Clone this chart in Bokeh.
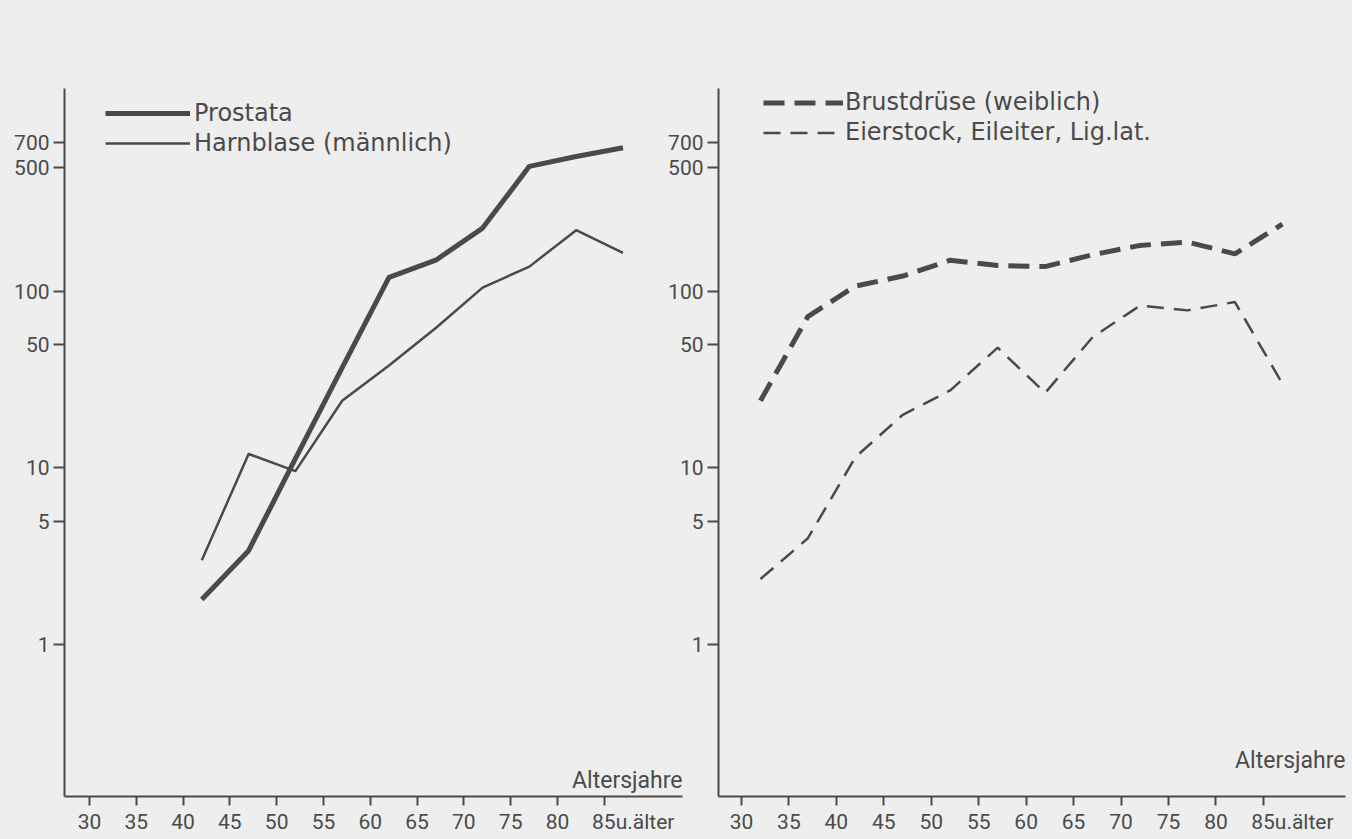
from bokeh.plotting import figure
from bokeh.layouts import row
from bokeh.models import (Range1d, FixedTicker, NumeralTickFormatter, Legend,
                          LegendItem, Label, LinearAxis)
from bokeh.embed import file_html
from bokeh.resources import INLINE

# ---------------- data ----------------
age_left = [42, 47, 52, 57, 62, 67, 72, 77, 82, 87]
prostata = [1.8, 3.4, 11.3, 37, 120, 150, 228, 510, 580, 650]
harnblase = [3.0, 12, 9.6, 24, 38, 62, 105, 138, 222, 165]

age_right = [32, 37, 42, 47, 52, 57, 62, 67, 72, 77, 82, 87]
brust = [24, 72, 107, 122, 150, 140, 138, 161, 182, 190, 163, 240]
eierstock = [2.35, 4.0, 11.5, 20, 27.5, 48, 26.6, 55, 83, 78, 87, 30]

x_ticks = [30, 35, 40, 45, 50, 55, 60, 65, 70, 75, 80, 85]
y_ticks = [1, 5, 10, 50, 100, 500, 700]
last_label = "85u.älter"
x_title = "Altersjahre"
labels_left = ["Prostata", "Harnblase (männlich)"]
labels_right = ["Brustdrüse (weiblich)", "Eierstock, Eileiter, Lig.lat."]

INK = "#4a4a4a"
BG = "#eeeeee"
TICK_FONT = "Roboto"
TEXT_FONT = "DejaVu Sans"

Y_RANGE = (0.138, 1407)


def make_panel(width, height, b_left, b_right, b_top, b_bottom, xr, yr, title_y):
    frame_w = width - b_left - b_right
    p = figure(width=width, height=height,
               x_range=Range1d(*xr), y_range=Range1d(*yr), y_axis_type="log",
               x_axis_location=None,
               output_backend="svg", toolbar_location=None,
               min_border_left=b_left, min_border_right=b_right,
               min_border_top=b_top, min_border_bottom=b_bottom)
    p.background_fill_color = None
    p.border_fill_color = None
    p.outline_line_color = None
    p.grid.visible = False

    # y axis
    ya = p.yaxis[0]
    ya.axis_line_color = INK
    ya.axis_line_width = 2
    ya.major_tick_line_color = INK
    ya.major_tick_line_width = 2
    ya.major_tick_in = 0
    ya.major_tick_out = 11
    ya.minor_tick_line_color = None
    ya.major_label_standoff = 4
    ya.major_label_text_font = TICK_FONT
    ya.major_label_text_font_size = "21px"
    ya.major_label_text_color = INK
    ya.ticker = FixedTicker(ticks=y_ticks)
    ya.formatter = NumeralTickFormatter(format="0")

    # x axis: tick marks drawn as minor ticks at the ages, labels on major
    # ticks; the last label "85u.älter" is shifted so that "85" sits on its tick
    shift = 29 * (xr[1] - xr[0]) / frame_w
    lab_ticks = x_ticks[:-1] + [x_ticks[-1] + shift]
    xa = LinearAxis(ticker=FixedTicker(ticks=lab_ticks, minor_ticks=x_ticks))
    xa.axis_line_color = INK
    xa.axis_line_width = 2
    xa.major_tick_line_color = None
    xa.major_tick_in = 0
    xa.major_tick_out = 0
    xa.minor_tick_line_color = INK
    xa.minor_tick_line_width = 2
    xa.minor_tick_in = 0
    xa.minor_tick_out = 9
    xa.major_label_standoff = 4
    xa.major_label_text_font = TICK_FONT
    xa.major_label_text_font_size = "21px"
    xa.major_label_text_color = INK
    xa.major_label_overrides = {lab_ticks[-1]: last_label}
    p.add_layout(xa, "below")

    p.add_layout(Label(x=xr[1], y=title_y, x_units="data", y_units="screen",
                       text=x_title, text_align="right", text_baseline="middle",
                       text_font=TICK_FONT, text_font_size="23px", text_color=INK))
    return p


# both frames span page y 88..796 (Bokeh aligns the frames inside a row)
# left panel: frame page x 64..682
left = make_panel(690, 839, 64, 8, 88, 43, (27.33, 93.36), Y_RANGE, 16)
r1 = left.line(age_left, prostata, line_color=INK, line_width=5, line_join="round")
r2 = left.line(age_left, harnblase, line_color=INK, line_width=2.5, line_join="round")
leg_l = Legend(items=[LegendItem(label=labels_left[0], renderers=[r1]),
                      LegendItem(label=labels_left[1], renderers=[r2])],
               location=(41, 639), padding=0, margin=0, spacing=2,
               glyph_width=85, glyph_height=26, label_height=26, label_standoff=4,
               background_fill_alpha=0, border_line_alpha=0,
               label_text_font=TEXT_FONT, label_text_font_size="24px",
               label_text_color=INK)
left.add_layout(leg_l)

# right panel: frame page x 718..1345
right = make_panel(687, 839, 53, 7, 88, 43, (27.58, 93.65), Y_RANGE, 36)
right.margin = (0, 0, 0, -25)
r3 = right.line(age_right, brust, line_color=INK, line_width=5, line_dash="21 10")
r4 = right.line(age_right, eierstock, line_color=INK, line_width=2.5, line_dash="17 10")
leg_r = Legend(items=[LegendItem(label=labels_right[0], renderers=[r3]),
                      LegendItem(label=labels_right[1], renderers=[r4])],
               location=(45, 650), padding=0, margin=0, spacing=2,
               glyph_width=80, glyph_height=25, label_height=25, label_standoff=2,
               background_fill_alpha=0, border_line_alpha=0,
               label_text_font=TEXT_FONT, label_text_font_size="24px",
               label_text_color=INK)
right.add_layout(leg_r)

p = row(left, right, styles={"background-color": BG})

open("out.html", "w").write(file_html(p, INLINE))
